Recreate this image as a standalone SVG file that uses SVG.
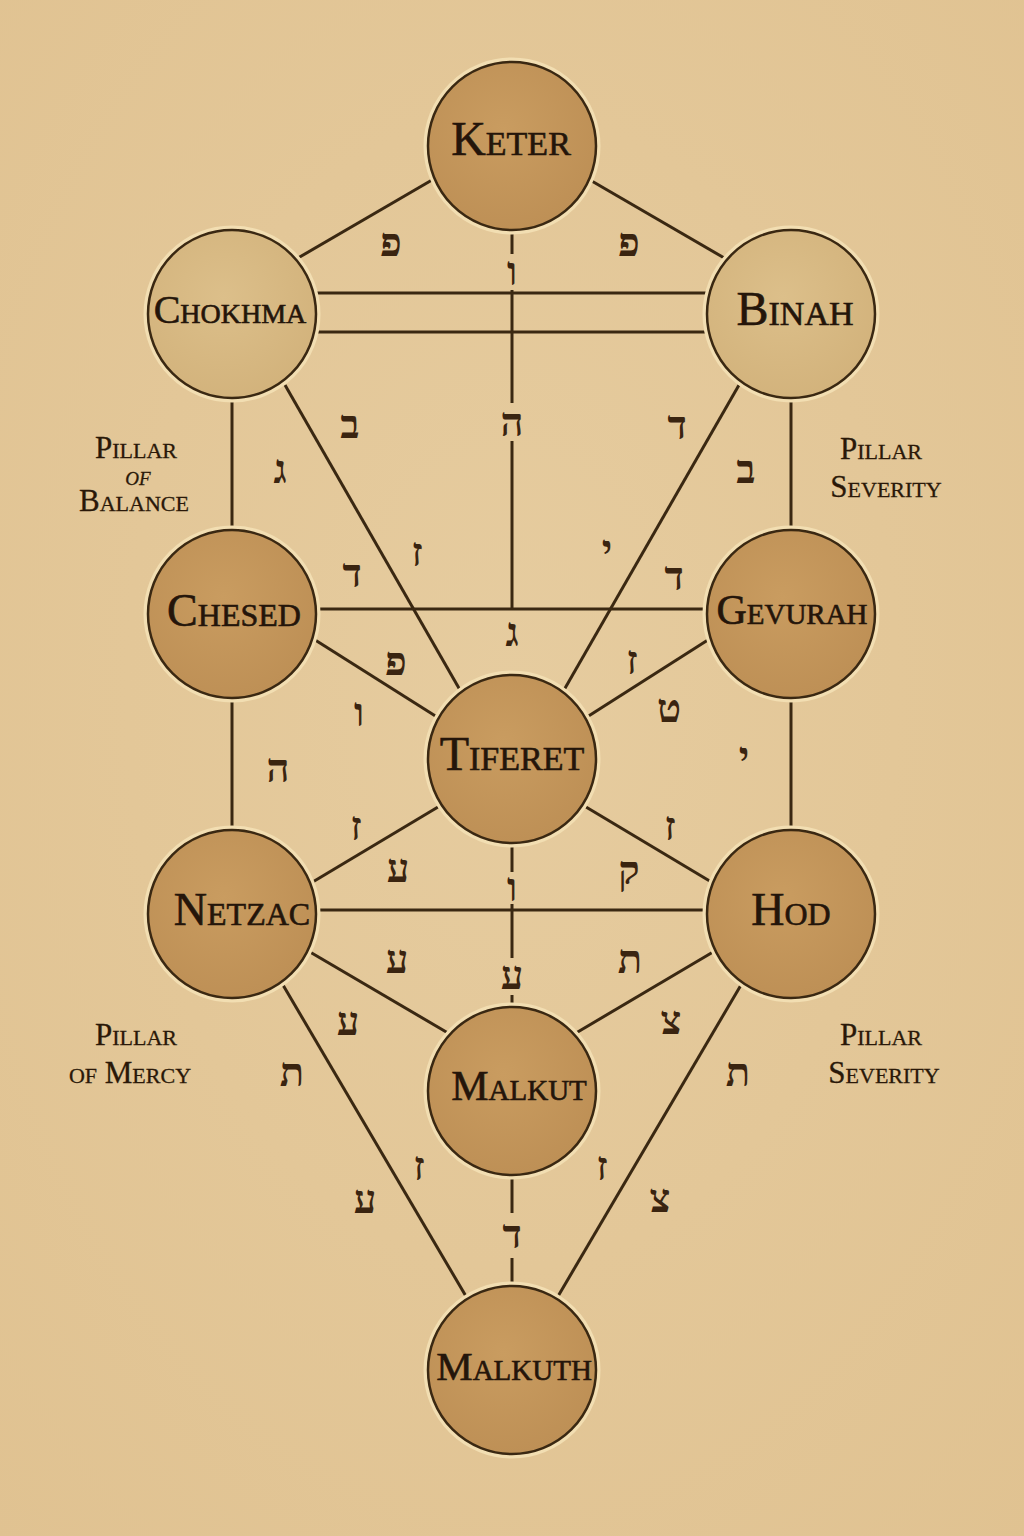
<svg xmlns="http://www.w3.org/2000/svg" width="1024" height="1536" viewBox="0 0 1024 1536">
<defs>
<radialGradient id="bg" cx="50%" cy="45%" r="75%">
<stop offset="0" stop-color="#e6cc9f"/>
<stop offset="1" stop-color="#e0c291"/>
</radialGradient>
<radialGradient id="dark" cx="45%" cy="40%" r="65%">
<stop offset="0" stop-color="#c99c60"/>
<stop offset="1" stop-color="#bd8f55"/>
</radialGradient>
<radialGradient id="light" cx="45%" cy="40%" r="65%">
<stop offset="0" stop-color="#dcbf8a"/>
<stop offset="1" stop-color="#d2b27b"/>
</radialGradient>
<style>
.ln{stroke:#3a2812;stroke-width:3;fill:none;stroke-linecap:butt}
.halo{fill:none;stroke:#f2deb2;stroke-width:5}
.cd{fill:url(#dark);stroke:#3a2812;stroke-width:2.5}
.cl{fill:url(#light);stroke:#3a2812;stroke-width:2.5}
.nl{font-family:"Liberation Serif","Times New Roman",serif;font-variant:small-caps;fill:#24150a;text-anchor:middle;stroke:#24150a;stroke-width:0.6}
.pl{font-family:"Liberation Serif","Times New Roman",serif;font-variant:small-caps;fill:#2a1808;text-anchor:middle;font-size:31px;stroke:#2a1808;stroke-width:0.3}
.of{font-style:italic;font-size:27px}
.he{font-family:"Liberation Serif","DejaVu Sans",serif;font-weight:bold;font-size:40px;fill:#3a2410;text-anchor:middle}
</style>
</defs>
<rect width="1024" height="1536" fill="url(#bg)"/>

<g id="connectors">
<line class="ln" x1="432" y1="180" x2="298" y2="258"/>
<line class="ln" x1="590" y1="180" x2="726" y2="259"/>
<line class="ln" x1="512" y1="230" x2="512" y2="254"/>
<line class="ln" x1="512" y1="290" x2="512" y2="403"/>
<line class="ln" x1="512" y1="441" x2="512" y2="609"/>
<line class="ln" x1="313" y1="293" x2="710" y2="293"/>
<line class="ln" x1="314" y1="332" x2="709" y2="332"/>
<line class="ln" x1="232" y1="398" x2="232" y2="530"/>
<line class="ln" x1="791" y1="398" x2="791" y2="530"/>
<line class="ln" x1="285" y1="385" x2="460" y2="690"/>
<line class="ln" x1="739" y1="385" x2="564" y2="690"/>
<line class="ln" x1="316" y1="609" x2="707" y2="609"/>
<line class="ln" x1="312" y1="638" x2="437" y2="717"/>
<line class="ln" x1="711" y1="638" x2="587" y2="717"/>
<line class="ln" x1="232" y1="698" x2="232" y2="830"/>
<line class="ln" x1="791" y1="698" x2="791" y2="830"/>
<line class="ln" x1="438" y1="807" x2="311" y2="883"/>
<line class="ln" x1="586" y1="807" x2="713" y2="883"/>
<line class="ln" x1="512" y1="843" x2="512" y2="872"/>
<line class="ln" x1="512" y1="904" x2="512" y2="958"/>
<line class="ln" x1="512" y1="995" x2="512" y2="1007"/>
<line class="ln" x1="316" y1="910" x2="707" y2="910"/>
<line class="ln" x1="310" y1="952" x2="448" y2="1033"/>
<line class="ln" x1="713" y1="952" x2="576" y2="1033"/>
<line class="ln" x1="283" y1="985" x2="467" y2="1298"/>
<line class="ln" x1="741" y1="985" x2="557" y2="1298"/>
<line class="ln" x1="512" y1="1175" x2="512" y2="1213"/>
<line class="ln" x1="512" y1="1258" x2="512" y2="1286"/>
</g>

<g id="keter"><circle class="halo" cx="512" cy="146" r="86"/><circle class="cd" cx="512" cy="146" r="84"/><text class="nl" x="511" y="155" font-size="48">Keter</text></g>
<g id="chokhma"><circle class="halo" cx="232" cy="314" r="86"/><circle class="cl" cx="232" cy="314" r="84"/><text class="nl" x="230" y="323" font-size="40">Chokhma</text></g>
<g id="binah"><circle class="halo" cx="791" cy="314" r="86"/><circle class="cl" cx="791" cy="314" r="84"/><text class="nl" x="795" y="325" font-size="48">Binah</text></g>
<g id="chesed"><circle class="halo" cx="232" cy="614" r="86"/><circle class="cd" cx="232" cy="614" r="84"/><text class="nl" x="234" y="626" font-size="46">Chesed</text></g>
<g id="gevurah"><circle class="halo" cx="791" cy="614" r="86"/><circle class="cd" cx="791" cy="614" r="84"/><text class="nl" x="792" y="624" font-size="42">Gevurah</text></g>
<g id="tiferet"><circle class="halo" cx="512" cy="759" r="86"/><circle class="cd" cx="512" cy="759" r="84"/><text class="nl" x="512" y="770" font-size="48">Tiferet</text></g>
<g id="netzac"><circle class="halo" cx="232" cy="914" r="86"/><circle class="cd" cx="232" cy="914" r="84"/><text class="nl" x="242" y="925" font-size="46">Netzac</text></g>
<g id="hod"><circle class="halo" cx="791" cy="914" r="86"/><circle class="cd" cx="791" cy="914" r="84"/><text class="nl" x="791" y="925" font-size="46">Hod</text></g>
<g id="malkut"><circle class="halo" cx="512" cy="1091" r="86"/><circle class="cd" cx="512" cy="1091" r="84"/><text class="nl" x="519" y="1100" font-size="42">Malkut</text></g>
<g id="malkuth"><circle class="halo" cx="512" cy="1370" r="86"/><circle class="cd" cx="512" cy="1370" r="84"/><text class="nl" x="514" y="1380" font-size="41">Malkuth</text></g>

<g id="pillar-labels">
<text class="pl"><tspan x="136" y="458">Pillar</tspan><tspan class="of" x="138" y="485">of</tspan><tspan x="134" y="511">Balance</tspan></text>
<text class="pl"><tspan x="881" y="459">Pillar</tspan><tspan x="886" y="497">Severity</tspan></text>
<text class="pl"><tspan x="136" y="1045">Pillar</tspan><tspan x="130" y="1083">of Mercy</tspan></text>
<text class="pl"><tspan x="881" y="1045">Pillar</tspan><tspan x="884" y="1083">Severity</tspan></text>
</g>

<g id="letters">
<text class="he" x="391" y="256">פ</text>
<text class="he" x="629" y="256">פ</text>
<text class="he" x="512" y="285">ו</text>
<text class="he" x="350" y="438">ב</text>
<text class="he" x="512" y="436">ה</text>
<text class="he" x="677" y="439">ד</text>
<text class="he" x="280" y="483">ג</text>
<text class="he" x="746" y="483">ב</text>
<text class="he" x="352" y="587">ד</text>
<text class="he" x="417" y="566">ז</text>
<text class="he" x="607" y="563">י</text>
<text class="he" x="674" y="590">ד</text>
<text class="he" x="512" y="646">ג</text>
<text class="he" x="396" y="675">פ</text>
<text class="he" x="632" y="674">ז</text>
<text class="he" x="359" y="726">ו</text>
<text class="he" x="669" y="722">ט</text>
<text class="he" x="278" y="782">ה</text>
<text class="he" x="744" y="770">י</text>
<text class="he" x="356" y="840">ז</text>
<text class="he" x="670" y="840">ז</text>
<text class="he" x="398" y="882">ע</text>
<text class="he" x="629" y="884">ק</text>
<text class="he" x="512" y="901">ו</text>
<text class="he" x="397" y="973">ע</text>
<text class="he" x="512" y="989">ע</text>
<text class="he" x="630" y="973">ת</text>
<text class="he" x="348" y="1035">ע</text>
<text class="he" x="671" y="1034">צ</text>
<text class="he" x="292" y="1086">ת</text>
<text class="he" x="738" y="1086">ת</text>
<text class="he" x="419" y="1180">ז</text>
<text class="he" x="602" y="1180">ז</text>
<text class="he" x="365" y="1213">ע</text>
<text class="he" x="660" y="1212">צ</text>
<text class="he" x="512" y="1248">ד</text>
</g>
</svg>
